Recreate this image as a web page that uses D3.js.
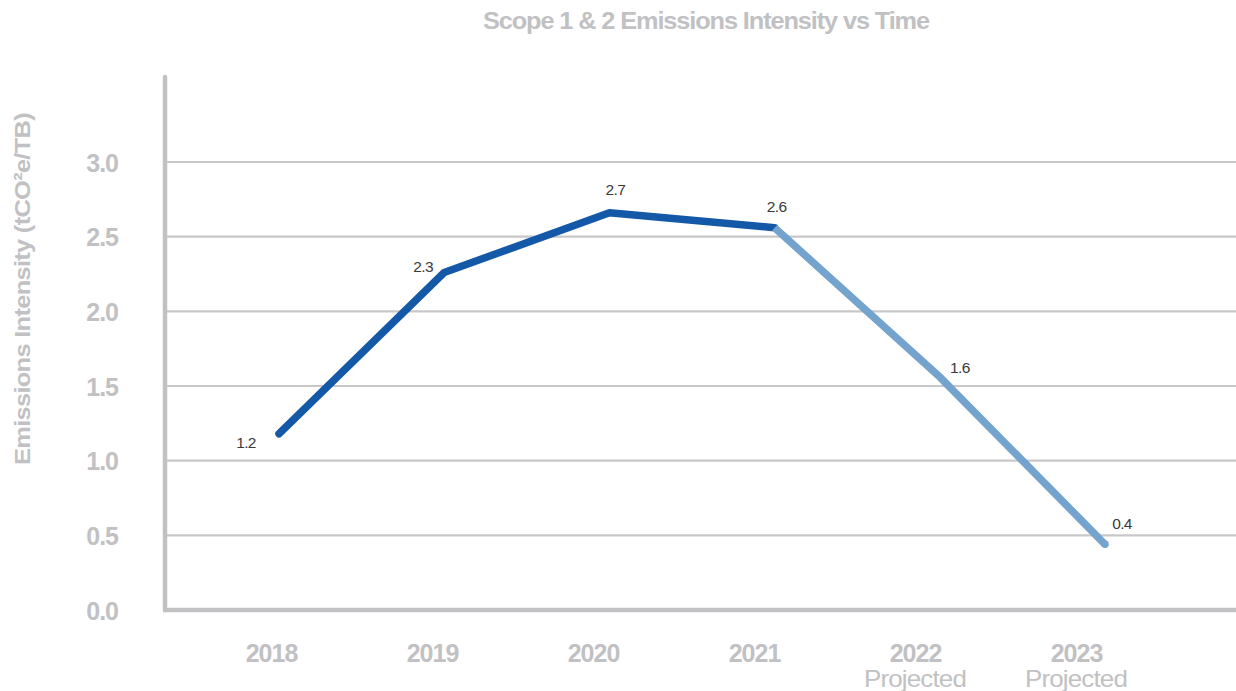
<!DOCTYPE html>
<html>
<head>
<meta charset="utf-8">
<script src="https://cdn.jsdelivr.net/npm/d3@7/dist/d3.min.js"></script>
<style>
  html, body { margin: 0; padding: 0; background: #ffffff; }
  svg { display: block; }
  text { font-family: "Liberation Sans", Arial, sans-serif; }
</style>
</head>
<body>
<svg id="chart" width="1236" height="691"></svg>
<script>
// Years shown on the x axis, and which of them are projections
const years = ["2018", "2019", "2020", "2021", "2022", "2023"];
const projected = [false, false, false, false, true, true];
// Scope 1 & 2 emissions intensity, tCO2e per TB
const intensity = [1.18, 2.26, 2.66, 2.56, 1.56, 0.44];
// Y axis ticks
const yTicks = [0, 0.5, 1.0, 1.5, 2.0, 2.5, 3.0];

const W = 1236, H = 691;
const svg = d3.select("#chart");

const grey = "#c1c1c3";
const darkBlue = "#1458a8";
const lightBlue = "#74a3cd";

// Scales
const y = d3.scaleLinear().domain([0, 3]).range([610, 162]);
const xLabel = d3.scalePoint().domain(years).range([271, 1076]);
const xMark = d3.scalePoint().domain(years).range([279, 1105]);

// Value-label nudges relative to each point
const labelDx = [-33, -21, 6, 2, 20, 17];
const labelDy = [14, -1, -18, -16, -4, -15];

// Title
svg.append("text")
  .attr("x", 706).attr("y", 29)
  .attr("text-anchor", "middle")
  .attr("fill", grey)
  .attr("font-weight", "bold")
  .attr("font-size", 23)
  .attr("letter-spacing", -1)
  .attr("textLength", 446)
  .attr("lengthAdjust", "spacingAndGlyphs")
  .text("Scope 1 & 2 Emissions Intensity vs Time");

// Y axis title
svg.append("text")
  .attr("transform", "translate(30,289) rotate(-90)")
  .attr("text-anchor", "middle")
  .attr("fill", grey)
  .attr("font-weight", "bold")
  .attr("font-size", 22)
  .attr("letter-spacing", -0.6)
  .attr("textLength", 352)
  .attr("lengthAdjust", "spacingAndGlyphs")
  .text("Emissions Intensity (tCO²e/TB)");

// Horizontal gridlines (excluding baseline)
svg.append("g")
  .selectAll("line")
  .data(yTicks.filter(d => d > 0))
  .join("line")
  .attr("x1", 166).attr("x2", W)
  .attr("y1", d => y(d)).attr("y2", d => y(d))
  .attr("stroke", "#c8c8ca")
  .attr("stroke-width", 2.2);

// Y axis via d3.axisLeft, styled to show only labels
const yAxis = svg.append("g")
  .attr("transform", "translate(118,0)")
  .call(d3.axisLeft(y).tickValues(yTicks).tickFormat(d3.format(".1f")).tickSize(0).tickPadding(0));
yAxis.select(".domain").remove();
yAxis.selectAll("text")
  .attr("fill", grey)
  .attr("font-family", "'Liberation Sans', Arial, sans-serif")
  .attr("font-weight", "bold")
  .attr("font-size", 25)
  .attr("dy", "0.36em")
  .attr("letter-spacing", -1);

// Axis lines
svg.append("line")
  .attr("x1", 165).attr("x2", 165)
  .attr("y1", 77).attr("y2", 610)
  .attr("stroke", grey).attr("stroke-width", 4.5)
  .attr("stroke-linecap", "round");
svg.append("line")
  .attr("x1", 163).attr("x2", W)
  .attr("y1", y(0)).attr("y2", y(0))
  .attr("stroke", grey).attr("stroke-width", 4.5);

// X axis labels via d3.axisBottom
const xAxis = svg.append("g")
  .attr("transform", "translate(0,644)")
  .call(d3.axisBottom(xLabel).tickSize(0).tickPadding(0));
xAxis.select(".domain").remove();
xAxis.selectAll("text")
  .attr("fill", grey)
  .attr("font-family", "'Liberation Sans', Arial, sans-serif")
  .attr("font-weight", "bold")
  .attr("font-size", 25)
  .attr("letter-spacing", -1);

// "Projected" sub-labels
svg.append("g")
  .selectAll("text")
  .data(years.filter((d, i) => projected[i]))
  .join("text")
  .attr("x", d => xLabel(d))
  .attr("y", 687)
  .attr("text-anchor", "middle")
  .attr("fill", grey)
  .attr("font-size", 24)
  .attr("letter-spacing", -0.8)
  .attr("textLength", 102)
  .attr("lengthAdjust", "spacingAndGlyphs")
  .text("Projected");

// Lines: actuals in dark blue, projections (from the last actual) in light blue
const pts = years.map((yr, i) => ({ yr, v: intensity[i], proj: projected[i], i }));
const lastActual = d3.max(pts.filter(p => !p.proj), p => p.i);
const line = d3.line().x(p => xMark(p.yr)).y(p => y(p.v));

svg.append("path")
  .datum(pts.filter(p => p.i <= lastActual))
  .attr("d", line)
  .attr("fill", "none")
  .attr("stroke", darkBlue)
  .attr("stroke-width", 7.5)
  .attr("stroke-linejoin", "round")
  .attr("stroke-linecap", "round");

svg.append("path")
  .datum(pts.filter(p => p.i >= lastActual))
  .attr("d", line)
  .attr("fill", "none")
  .attr("stroke", lightBlue)
  .attr("stroke-width", 7.5)
  .attr("stroke-linejoin", "miter")
  .attr("stroke-linecap", "butt");

// Round cap for the final projected point
svg.append("circle")
  .attr("cx", xMark(years[years.length - 1]))
  .attr("cy", y(intensity[intensity.length - 1]))
  .attr("r", 3.75)
  .attr("fill", lightBlue);

// Value labels
svg.append("g")
  .selectAll("text")
  .data(pts)
  .join("text")
  .attr("x", p => xMark(p.yr) + labelDx[p.i])
  .attr("y", p => y(p.v) + labelDy[p.i])
  .attr("text-anchor", "middle")
  .attr("fill", "#3a3a3c")
  .attr("font-size", 15.5)
  .attr("letter-spacing", -0.6)
  .text(p => d3.format(".1f")(p.v));
</script>
</body>
</html>
